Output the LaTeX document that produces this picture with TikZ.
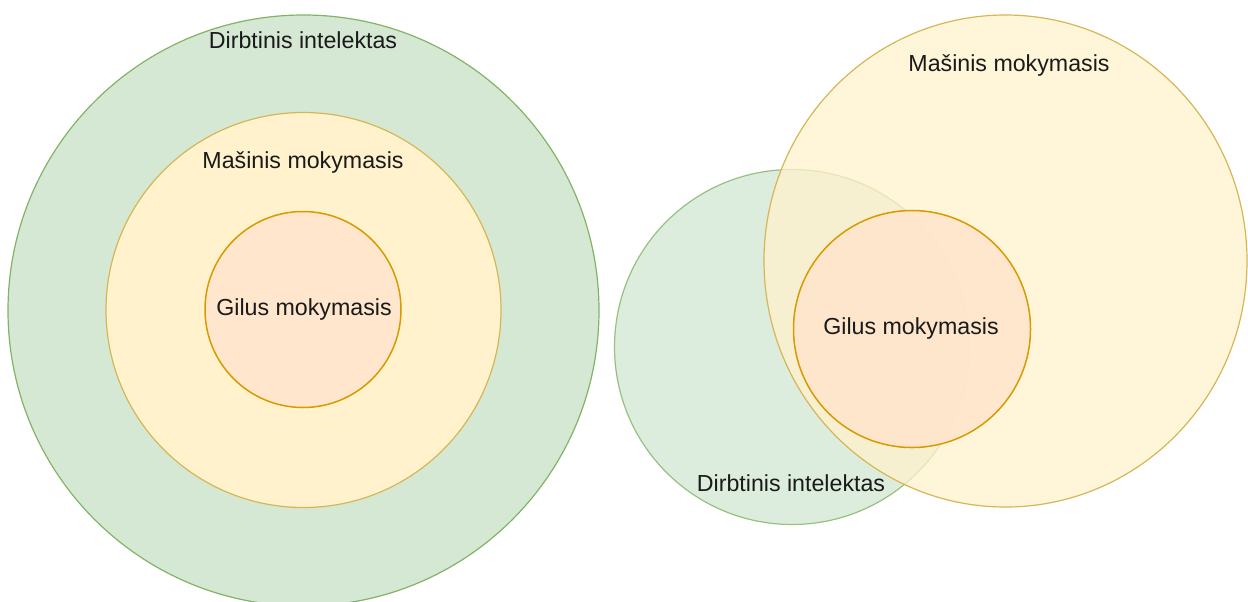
\documentclass[tikz,border=0pt]{standalone}
\usepackage{fontspec}
\setmainfont{Liberation Sans}
\usetikzlibrary{shapes.geometric}
\definecolor{aifill}{HTML}{D5E8D4}
\definecolor{ailine}{HTML}{82B366}
\definecolor{mlfill}{HTML}{FFF2CC}
\definecolor{mlline}{HTML}{D6B656}
\definecolor{dlfill}{HTML}{FFE6CC}
\definecolor{dlline}{HTML}{D79B00}
\definecolor{ink}{HTML}{1A1A1A}
\tikzset{
  disc/.style={circle, inner sep=0pt, outer sep=0pt, line width=0.6pt},
  aidisc/.style={disc, draw=ailine, fill=aifill},
  mldisc/.style={disc, draw=mlline, fill=mlfill},
  dldisc/.style={disc, draw=dlline, fill=dlfill, line width=0.75pt},
  lbl/.style={anchor=base, inner sep=0pt, text=ink, font=\fontsize{11.6}{14}\selectfont}
}
\begin{document}
\begin{tikzpicture}[x=0.5pt,y=-0.5pt]
\useasboundingbox (0,0) rectangle (1248,601);

% Nested view: each field inside the broader one
\node[aidisc, minimum size=295.5pt] (aiL) at (303.5,310.5) {};
\node[mldisc, minimum size=197.5pt] (mlL) at (303.5,310) {};
\node[dldisc, minimum size=98pt] (dlL) at (303,309.5) {};
\node[lbl] (aiLt) at (303,48) {Dirbtinis intelektas};
\node[lbl] (mlLt) at (303,168.5) {Mašinis mokymasis};
\node[lbl] (dlLt) at (304,315) {Gilus mokymasis};

% Overlapping view
\node[aidisc, minimum size=177.5pt, fill opacity=0.8, draw opacity=0.8] (aiR) at (792,347) {};
\node[mldisc, ellipse, minimum width=241.5pt, minimum height=246pt, fill opacity=0.75] (mlR) at (1005.5,261) {};
\node[dldisc, minimum size=118.5pt, fill opacity=0.9] (dlR) at (912,329) {};
\node[lbl] (mlRt) at (1009,71) {Mašinis mokymasis};
\node[lbl] (dlRt) at (911,334) {Gilus mokymasis};
\node[lbl] (aiRt) at (791,491) {Dirbtinis intelektas};
\end{tikzpicture}
\end{document}
